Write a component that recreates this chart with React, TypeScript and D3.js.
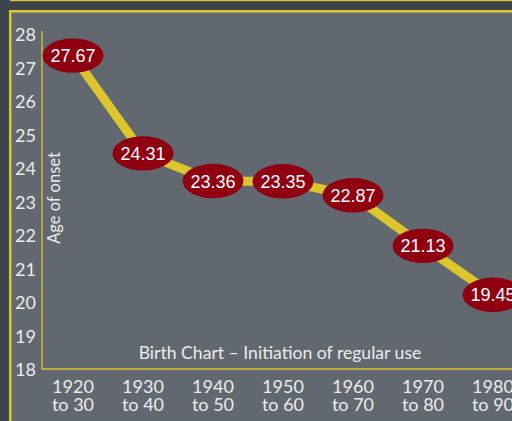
import { useEffect, useRef } from "react";
import * as d3 from "d3";

// birth cohorts and mean age at initiation of regular use
const cohorts = ["1920", "1930", "1940", "1950", "1960", "1970", "1980"];
const cohortEnds = ["to 30", "to 40", "to 50", "to 60", "to 70", "to 80", "to 90"];
const ages = [27.67, 24.31, 23.36, 23.35, 22.87, 21.13, 19.45];
const yTicks = [18, 19, 20, 21, 22, 23, 24, 25, 26, 27, 28];

const W = 512, H = 421;
const dark = "#3b444b", panel = "#62686f", yellow = "#dcc62b", red = "#8f0011";
const labelFont = "Lato, 'Open Sans', sans-serif";

function App() {
    const ref = useRef<SVGSVGElement>(null);

    useEffect(() => {
        const svg = d3.select(ref.current);
        svg.selectAll("*").remove();

        // background frame
        svg.append("rect").attr("width", W).attr("height", H).attr("fill", dark);
        svg.append("rect").attr("x", 10).attr("y", 0).attr("width", W - 10).attr("height", 1.2).attr("fill", yellow);
        svg.append("rect")
            .attr("x", 10.2).attr("y", 11.3)
            .attr("width", W + 20).attr("height", H + 20)
            .attr("fill", panel)
            .attr("stroke", yellow).attr("stroke-width", 2.5);

        var x = d3.scalePoint().domain(cohorts).range([73, 493]);
        // the tick labels and the plotted points sit on slightly different scales in the original
        var yTick = d3.scaleLinear().domain([18, 28]).range([370, 34.5]);
        var y = d3.scaleLinear().domain([18, 28]).range([337, 46]);

        // axes lines
        svg.append("line")
            .attr("x1", 42).attr("x2", 42).attr("y1", 31).attr("y2", 369.5)
            .attr("stroke", yellow).attr("stroke-width", 1.3);
        svg.append("line")
            .attr("x1", 42).attr("x2", W).attr("y1", 369).attr("y2", 369)
            .attr("stroke", yellow).attr("stroke-width", 1.3);

        // y tick labels
        svg.append("g").selectAll("text")
            .data(yTicks)
            .enter().append("text")
            .attr("x", 36)
            .attr("y", d => yTick(d))
            .attr("dy", "0.36em")
            .attr("text-anchor", "end")
            .attr("font-family", labelFont)
            .attr("font-size", 18)
            .attr("fill", "#ececec")
            .text(d => d);

        // x category labels, two lines each
        var xg = svg.append("g")
            .attr("text-anchor", "middle")
            .attr("font-family", labelFont)
            .attr("font-size", 18)
            .attr("fill", "#ececec");
        xg.selectAll("text.top")
            .data(cohorts)
            .enter().append("text")
            .attr("class", "top")
            .attr("x", d => x(d)!).attr("y", 393)
            .text(d => d);
        xg.selectAll("text.bottom")
            .data(cohortEnds)
            .enter().append("text")
            .attr("class", "bottom")
            .attr("x", (d, i) => x(cohorts[i])!).attr("y", 410.5)
            .text(d => d);

        svg.append("text")
            .attr("transform", "translate(59.5,198) rotate(-90)")
            .attr("text-anchor", "middle")
            .attr("font-family", labelFont)
            .attr("font-size", 16.5)
            .attr("fill", "#ececec")
            .text("Age of onset");

        svg.append("text")
            .attr("x", 280).attr("y", 359)
            .attr("text-anchor", "middle")
            .attr("font-family", labelFont)
            .attr("font-size", 17.6)
            .attr("fill", "#ececec")
            .text("Birth Chart \u2013 Initiation of regular use");

        // the line
        svg.append("path")
            .datum(ages)
            .attr("fill", "none")
            .attr("stroke", yellow)
            .attr("stroke-width", 9)
            .attr("d", d3.line<number>()
                .x((d, i) => x(cohorts[i])!)
                .y(d => y(d)));

        // value bubbles
        var pts = svg.append("g").selectAll("g")
            .data(ages)
            .enter().append("g")
            .attr("transform", (d, i) => `translate(${x(cohorts[i])},${y(d)})`);
        pts.append("ellipse")
            .attr("rx", 30.5).attr("ry", 17.2)
            .attr("fill", red);
        pts.append("text")
            .attr("text-anchor", "middle")
            .attr("dy", "0.36em")
            .attr("font-family", "'Liberation Sans', Arial, sans-serif")
            .attr("font-size", 18)
            .attr("fill", "#ffffff")
            .text(d => d.toFixed(2));
    });

    return (
        <svg ref={ref} width={W} height={H} style={{ position: "absolute", left: 0, top: 0 }}></svg>
    );
}

export default App;
